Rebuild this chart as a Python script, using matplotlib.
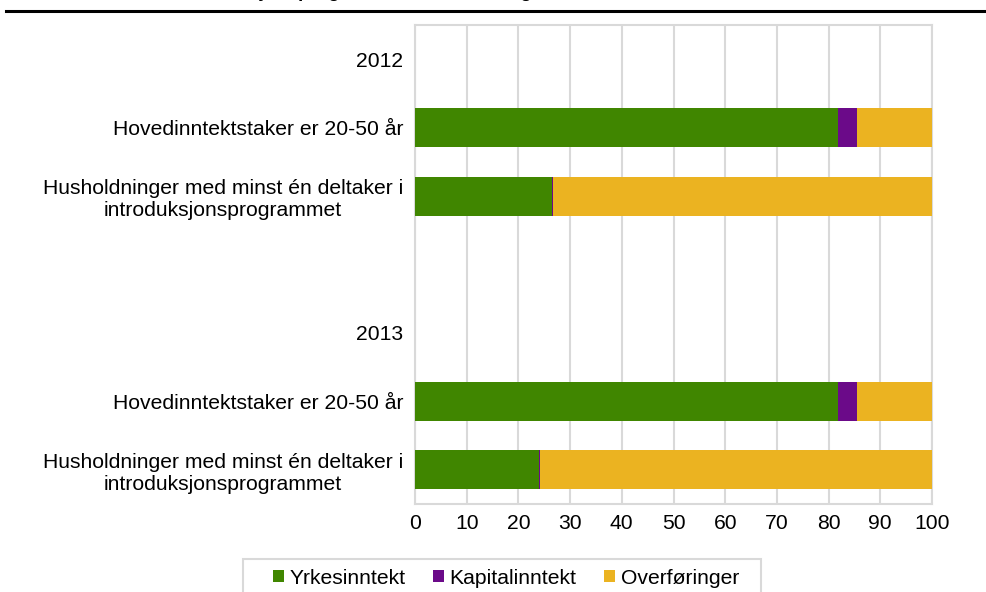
#!/usr/bin/env python3

import matplotlib
matplotlib.use("Agg")
import matplotlib.pyplot as plt
import numpy as np
from matplotlib.patches import Rectangle
from matplotlib.lines import Line2D

plt.rcParams['font.family'] = ['Liberation Sans', 'DejaVu Sans']

# categories, top to bottom (blank rows carry the year headings)
categories = [
    "2012",
    "Hovedinntektstaker er 20-50 år",
    "Husholdninger med minst én deltaker i\nintroduksjonsprogrammet",
    "",
    "2013",
    "Hovedinntektstaker er 20-50 år",
    "Husholdninger med minst én deltaker i\nintroduksjonsprogrammet",
]

# percent of income
yrkesinntekt = [0, 81.9, 26.5, 0, 0, 81.9, 24.0]
kapitalinntekt = [0, 3.5, 0.1, 0, 0, 3.6, 0.2]
overforinger = [0, 14.6, 73.4, 0, 0, 14.5, 75.8]

series_names = ["Yrkesinntekt", "Kapitalinntekt", "Overføringer"]
colors = ["#408600", "#6b0a89", "#ebb321"]
grid_col = "#d9d9d9"
fs = 15.2

W, H = 987, 592
fig = plt.figure(figsize=(W / 100, H / 100), dpi=100)
ax = fig.add_axes([415 / W, 1 - 504 / H, (932 - 415) / W, (504 - 25) / H])

y = np.arange(len(categories))
left = np.zeros(len(categories))
for vals, name, col in zip([yrkesinntekt, kapitalinntekt, overforinger], series_names, colors):
    ax.barh(y, vals, left=left, height=0.57, color=col, label=name, linewidth=0, zorder=3)
    left = left + np.array(vals)

ax.set_xlim(0, 100)
ax.set_ylim(len(categories) - 0.5, -0.5)
ax.set_xticks(range(0, 101, 10))
ax.set_yticks(y)
ax.set_yticklabels(categories)
for lab in ax.get_yticklabels():
    lab.set_multialignment('center')

ax.tick_params(axis='both', length=0, labelsize=fs, colors='black')
ax.tick_params(axis='x', pad=7.5)
ax.tick_params(axis='y', pad=8.5)

ax.grid(axis='x', color=grid_col, linewidth=1.5, zorder=0)
ax.set_axisbelow(True)
for sp in ax.spines.values():
    sp.set_color(grid_col)
    sp.set_linewidth(1.5)

# title, mostly cut off above the picture
fig.text(87 / W, 1 + 3 / H,
         "deltaker i introduksjonsprogrammet. Husholdninger der hovedinntektstaker er 20-50 år",
         ha='left', va='baseline', fontsize=13.5, fontweight='bold')
fig.add_artist(Line2D([6 / W, 1], [1 - 10.5 / H, 1 - 10.5 / H], color='black',
                      linewidth=2.2, transform=fig.transFigure))

# legend with box running past the bottom edge
fig.add_artist(Rectangle((243 / W, -0.05), (761 - 243) / W, 0.05 + (1 - 559 / H),
                         transform=fig.transFigure, facecolor='white',
                         edgecolor=grid_col, linewidth=1.5))
handles, labels = ax.get_legend_handles_labels()
fig.legend(handles, labels, loc='center', bbox_to_anchor=(506 / W, 1 - 578 / H),
           ncol=3, frameon=False, fontsize=fs, handlelength=0.52, handleheight=0.52,
           handletextpad=0.24, columnspacing=1.33, borderpad=0)

fig.savefig("out.png", dpi=100)
